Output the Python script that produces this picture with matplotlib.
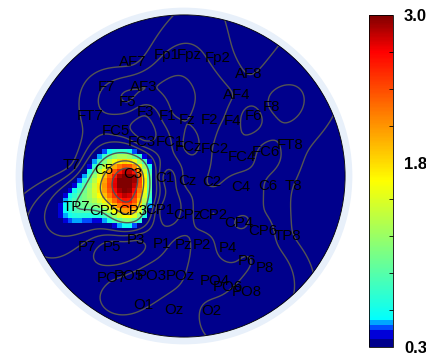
import numpy as np
import matplotlib
matplotlib.use("Agg")
import matplotlib.pyplot as plt
from matplotlib.colors import LinearSegmentedColormap
from matplotlib.patches import Circle

# electrode layout (head radius = 1) and the plotted values
names = ['Fp1', 'Fpz', 'Fp2', 'AF7', 'AF3', 'AF4', 'AF8',
         'F7', 'F5', 'F3', 'F1', 'Fz', 'F2', 'F4', 'F6', 'F8',
         'FT7', 'FC5', 'FC3', 'FC1', 'FCz', 'FC2', 'FC4', 'FC6', 'FT8',
         'T7', 'C5', 'C3', 'C1', 'Cz', 'C2', 'C4', 'C6', 'T8',
         'TP7', 'CP5', 'CP3', 'CP1', 'CPz', 'CP2', 'CP4', 'CP6', 'TP8',
         'P7', 'P5', 'P3', 'P1', 'Pz', 'P2', 'P4', 'P6', 'P8',
         'PO7', 'PO5', 'PO3', 'POz', 'PO4', 'PO6', 'PO8',
         'O1', 'Oz', 'O2']
ex = [-0.11, 0.03, 0.21, -0.32, -0.25, 0.33, 0.40,
      -0.48, -0.35, -0.24, -0.10, 0.02, 0.16, 0.30, 0.43, 0.54,
      -0.58, -0.42, -0.26, -0.09, 0.03, 0.19, 0.36, 0.51, 0.66,
      -0.70, -0.50, -0.32, -0.12, 0.02, 0.17, 0.35, 0.52, 0.68,
      -0.67, -0.50, -0.32, -0.15, 0.02, 0.18, 0.34, 0.49, 0.64,
      -0.60, -0.45, -0.30, -0.14, 0.00, 0.11, 0.27, 0.39, 0.50,
      -0.45, -0.34, -0.20, -0.02, 0.19, 0.27, 0.39,
      -0.25, -0.06, 0.17]
ey = [0.75, 0.75, 0.73, 0.71, 0.55, 0.50, 0.63,
      0.55, 0.46, 0.40, 0.37, 0.35, 0.35, 0.34, 0.37, 0.43,
      0.37, 0.28, 0.21, 0.21, 0.18, 0.17, 0.12, 0.15, 0.19,
      0.07, 0.04, 0.01, -0.01, -0.03, -0.04, -0.07, -0.06, -0.06,
      -0.19, -0.22, -0.22, -0.21, -0.24, -0.24, -0.29, -0.34, -0.37,
      -0.44, -0.44, -0.40, -0.42, -0.43, -0.43, -0.45, -0.53, -0.57,
      -0.63, -0.62, -0.62, -0.62, -0.65, -0.69, -0.72,
      -0.80, -0.83, -0.84]
values = [-0.3, -0.2, -0.5, -0.8, 0.0, -0.4, -0.7,
          -0.3, 0.0, -0.6, -0.1, 0.0, -0.2, -0.5, -0.9, -0.3,
          -0.5, -0.5, -0.6, -0.4, 0.1, -0.4, -0.6, -0.2, -0.5,
          -0.7, 1.5, 3.0, -0.8, -0.2, -0.4, -0.1, -0.4, -0.7,
          0.9, 1.0, 2.0, -0.7, -0.5, 0.0, -0.4, -0.2, -0.6,
          -0.5, -0.9, -0.7, -0.5, -0.2, -0.6, -0.1, -0.4, -0.1,
          -0.4, -0.3, -0.1, -0.3, -0.6, -0.4, -0.2,
          -0.3, -0.6, -0.2]
clim = (0.3, 3.0)
cbar_ticks = [0.3, 1.8, 3.0]
contour_levels = [-0.7, -0.35, 0.0, 0.9, 1.8, 2.6]

# biharmonic spline interpolation (like griddata 'v4')
xy = np.column_stack([ex, ey])
v = np.array(values)


def green(d):
    with np.errstate(divide='ignore', invalid='ignore'):
        g = d ** 2 * (np.log(d) - 1)
    g[d == 0] = 0
    return g


d = np.linalg.norm(xy[:, None, :] - xy[None, :, :], axis=2)
w = np.linalg.solve(green(d), v)


def interp(gx, gy):
    p = np.column_stack([gx.ravel(), gy.ravel()])
    dd = np.linalg.norm(p[:, None, :] - xy[None, :, :], axis=2)
    return (green(dd) @ w).reshape(gx.shape)


cmap = LinearSegmentedColormap.from_list('topo', [
    (0.00, (0.0, 0.0, 0.55)), (0.02, (0.0, 0.0, 0.55)),
    (0.021, (0.0, 0.0, 0.85)), (0.05, (0.0, 0.0, 0.85)),
    (0.051, (0.0, 0.3, 1.0)), (0.065, (0.0, 0.3, 1.0)),
    (0.066, (0.0, 0.65, 1.0)), (0.079, (0.0, 0.65, 1.0)),
    (0.08, (0.0, 1.0, 1.0)), (0.29, (0.5, 1.0, 0.5)),
    (0.50, (1.0, 1.0, 0.0)), (0.70, (1.0, 0.5, 0.0)),
    (0.89, (1.0, 0.0, 0.0)), (1.00, (0.5, 0.0, 0.0))])
cmap.set_under((0.0, 0.0, 0.55))

fig = plt.figure(figsize=(4.27, 3.6), dpi=100)
ax = fig.add_axes([10 / 427, 10 / 360, 348 / 427, 348 / 360])
ax.set_xlim(-1.08, 1.08)
ax.set_ylim(-1.08, 1.08)
ax.axis('off')

ring = Circle((0, 0), 1.045, facecolor=(0.91, 0.94, 0.98), edgecolor='none', zorder=0)
ax.add_patch(ring)
disk = Circle((0, 0), 1.0, facecolor='none', edgecolor='black', lw=0.6, zorder=5)
ax.add_patch(disk)

n = 65
edges = np.linspace(-1, 1, n + 1)
centers = (edges[:-1] + edges[1:]) / 2
z = interp(*np.meshgrid(centers, centers))
mesh = ax.pcolormesh(edges, edges, z, cmap=cmap, vmin=clim[0], vmax=clim[1], zorder=1)
mesh.set_clip_path(disk)

fx, fy = np.meshgrid(np.linspace(-1, 1, 160), np.linspace(-1, 1, 160))
fz = interp(fx, fy)
cs = ax.contour(fx, fy, fz, levels=contour_levels, colors=[(0.33, 0.33, 0.33)],
                linewidths=1.0, linestyles='solid', zorder=2)
cs.set_clip_path(disk)

for nm, x, y in zip(names, ex, ey):
    ax.text(x, y, nm, ha='center', va='center', fontsize=10.8,
            family='Liberation Sans', color='black', zorder=6)

cax = fig.add_axes([369 / 427, 13 / 360, 24 / 427, 332 / 360])
cb = fig.colorbar(mesh, cax=cax, ticks=cbar_ticks)
cb.outline.set_linewidth(0.6)
cb.set_ticks(np.arange(0.3, 3.01, 0.3), minor=True)
cax.tick_params(which='minor', direction='in', length=3, width=0.6, right=True)
cax.tick_params(which='major', length=0, pad=8)
cb.ax.set_yticklabels(['0.3', '1.8', '3.0'], fontweight='bold', fontsize=12,
                      family='Liberation Sans')

fig.savefig('out.png', dpi=100)
